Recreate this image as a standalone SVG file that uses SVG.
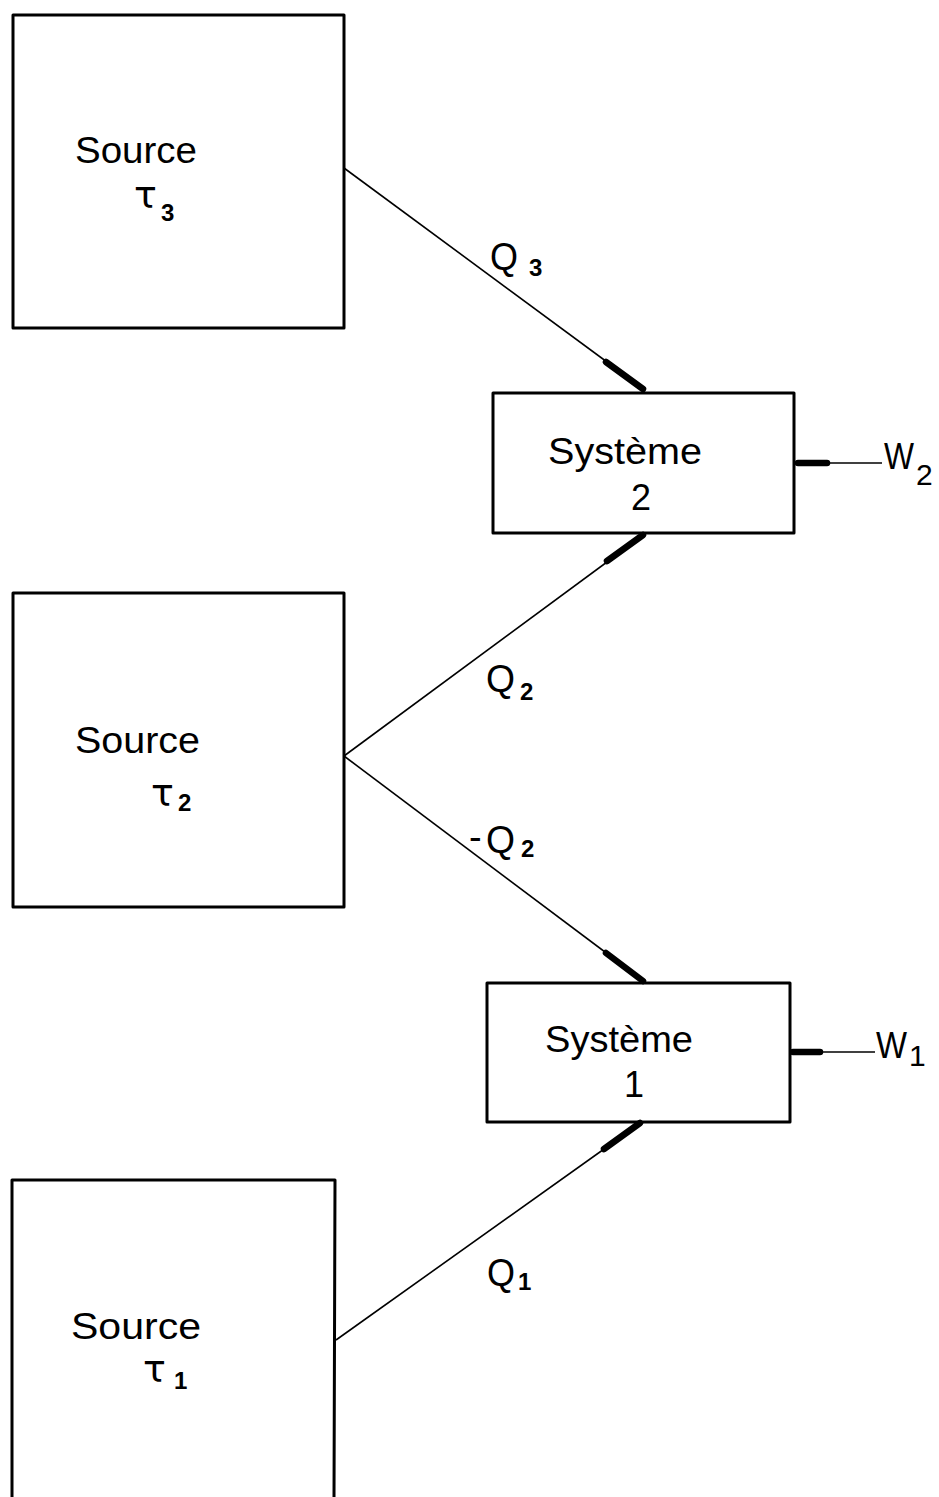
<svg xmlns="http://www.w3.org/2000/svg" width="939" height="1497" viewBox="0 0 939 1497">
  <style>
    .box { fill: none; stroke: #000; stroke-width: 3; stroke-linejoin: round; }
    .wire { fill: none; stroke: #000; stroke-width: 1.6; }
    .tip { fill: none; stroke: #000; stroke-width: 6.5; stroke-linecap: round; }
    text { font-family: "Liberation Sans", Arial, sans-serif; fill: #000; }
    .lbl { font-size: 36px; }
    .q { font-size: 38px; }
    .sym { font-family: "DejaVu Sans", sans-serif; font-size: 38px; }
    .sub { font-size: 24px; font-weight: bold; }
    .wsub { font-size: 30px; }
  </style>
  <rect width="939" height="1497" fill="#fff"/>

  <!-- heat and work connectors -->
  <g id="connectors">
    <line class="wire" x1="344" y1="168" x2="645" y2="390"/>
    <line class="tip" x1="606" y1="362" x2="643" y2="389"/>

    <line class="wire" x1="344" y1="756" x2="645" y2="534"/>
    <line class="tip" x1="607" y1="561" x2="643" y2="535"/>

    <line class="wire" x1="344" y1="756" x2="645" y2="982"/>
    <line class="tip" x1="606" y1="953" x2="643" y2="981"/>

    <line class="wire" x1="336" y1="1340" x2="642" y2="1122"/>
    <line class="tip" x1="604" y1="1149" x2="640" y2="1123"/>

    <line class="wire" x1="795" y1="463" x2="882" y2="463"/>
    <line class="tip" x1="798" y1="463" x2="827" y2="463"/>

    <line class="wire" x1="790" y1="1052" x2="875" y2="1052"/>
    <line class="tip" x1="793" y1="1052" x2="820" y2="1052"/>
  </g>

  <g id="labels">
    <text class="q" x="490" y="270" textLength="28" lengthAdjust="spacingAndGlyphs">Q</text>
    <text class="sub" x="529" y="276">3</text>

    <text class="q" x="486" y="692" textLength="29" lengthAdjust="spacingAndGlyphs">Q</text>
    <text class="sub" x="520" y="700">2</text>

    <text class="q" x="469" y="850">-</text>
    <text class="q" x="486" y="853" textLength="29" lengthAdjust="spacingAndGlyphs">Q</text>
    <text class="sub" x="521" y="857">2</text>

    <text class="q" x="487" y="1286" textLength="28" lengthAdjust="spacingAndGlyphs">Q</text>
    <text class="sub" x="518" y="1290">1</text>

    <text class="lbl" x="884" y="469" textLength="30" lengthAdjust="spacingAndGlyphs">W</text>
    <text class="wsub" x="916" y="485">2</text>

    <text class="lbl" x="876" y="1058" textLength="31" lengthAdjust="spacingAndGlyphs">W</text>
    <text class="wsub" x="909" y="1066">1</text>
  </g>

  <g id="source3">
    <rect class="box" x="13" y="15" width="331" height="313"/>
    <text class="lbl" x="75" y="163" textLength="122" lengthAdjust="spacingAndGlyphs">Source</text>
    <text class="sym" x="134" y="208">τ</text>
    <text class="sub" x="161" y="221">3</text>
  </g>

  <g id="source2">
    <rect class="box" x="13" y="593" width="331" height="314"/>
    <text class="lbl" x="75" y="753" textLength="125" lengthAdjust="spacingAndGlyphs">Source</text>
    <text class="sym" x="151" y="806">τ</text>
    <text class="sub" x="178" y="811">2</text>
  </g>

  <g id="source1">
    <path class="box" d="M12,1500 L12,1180 L335,1180 L334,1500"/>
    <text class="lbl" x="71" y="1339" textLength="130" lengthAdjust="spacingAndGlyphs">Source</text>
    <text class="sym" x="143" y="1382">τ</text>
    <text class="sub" x="174" y="1389">1</text>
  </g>

  <g id="systeme2">
    <rect class="box" x="493" y="393" width="301" height="140"/>
    <text class="lbl" x="548" y="464" font-size="41" textLength="154" lengthAdjust="spacingAndGlyphs">Système</text>
    <text class="lbl" x="631" y="510" font-size="44">2</text>
  </g>

  <g id="systeme1">
    <rect class="box" x="487" y="983" width="303" height="139"/>
    <text class="lbl" x="545" y="1052" font-size="43" textLength="148" lengthAdjust="spacingAndGlyphs">Système</text>
    <text class="lbl" x="624" y="1097" font-size="42">1</text>
  </g>
</svg>
